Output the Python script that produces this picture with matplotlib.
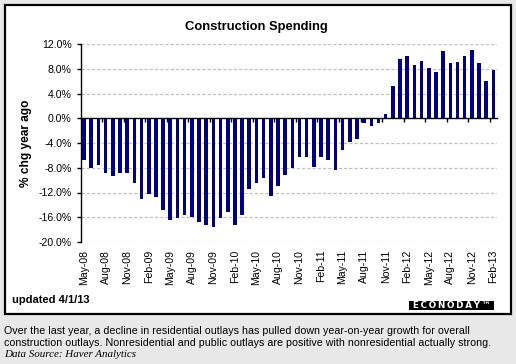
import numpy as np
import matplotlib
matplotlib.use("Agg")
import matplotlib.pyplot as plt
from matplotlib.patches import Rectangle

# Construction spending, % chg year ago, May-08 .. Feb-13 (monthly)
yoy = [-6.7, -8.0, -7.6, -8.9, -9.4, -8.9, -8.8, -10.5, -13.0, -12.2,
       -12.8, -14.9, -16.5, -16.2, -15.7, -15.9, -16.8, -17.3, -17.5, -16.2,
       -15.2, -17.2, -15.7, -11.5, -10.5, -9.6, -12.5, -11.0, -9.2, -8.0,
       -6.2, -6.3, -7.8, -6.3, -6.7, -8.4, -5.1, -3.8, -3.3, -0.7,
       -1.2, -0.7, 0.7, 5.2, 9.6, 10.1, 8.6, 9.2, 8.1, 7.5,
       10.9, 8.9, 9.1, 10.1, 11.0, 8.9, 6.0, 7.8]
tick_labels = ["May-08", "Aug-08", "Nov-08", "Feb-09", "May-09", "Aug-09",
               "Nov-09", "Feb-10", "May-10", "Aug-10", "Nov-10", "Feb-11",
               "May-11", "Aug-11", "Nov-11", "Feb-12", "May-12", "Aug-12",
               "Nov-12", "Feb-13"]
y_ticks = [12, 8, 4, 0, -4, -8, -12, -16, -20]

plt.rcParams['font.family'] = ['Liberation Sans', 'DejaVu Sans']

W, H = 516, 364
fig = plt.figure(figsize=(W / 100, H / 100), dpi=100, facecolor='#e8e8e8')

# white chart panel with black frame
fig.patches.append(Rectangle((4.5 / W, 1 - 314 / H), 506 / W, 309 / H,
                             transform=fig.transFigure, facecolor='white',
                             edgecolor='black', linewidth=1.6, zorder=-5))

ax = fig.add_axes([80.5 / W, 1 - 242 / H, 416.5 / W, 198 / H])
ax.set_facecolor('none')

x = np.arange(len(yoy))
ax.bar(x, yoy, width=0.5, color='#000080', zorder=3)

ax.set_xlim(-0.5, len(yoy) - 0.5)
ax.set_ylim(-20, 12)
ax.set_yticks(y_ticks)
ax.set_yticklabels([f"{v:.1f}%" for v in y_ticks], fontsize=7.6)
ax.tick_params(axis='y', length=3, width=1, direction='out', pad=3.5)
for v in y_ticks:
    if v != 0:
        ax.axhline(v, color='#c0c0c0', lw=0.9, dashes=(2.6, 1.6), zorder=1)

for s in ['top', 'right']:
    ax.spines[s].set_visible(False)
ax.spines['left'].set_linewidth(1.0)
ax.spines['bottom'].set_position(('data', 0))
ax.spines['bottom'].set_linewidth(1.0)
ax.spines['bottom'].set_zorder(4)
ax.set_xticks(np.arange(2.5, len(yoy) - 1, 3))
ax.tick_params(axis='x', length=3, width=1, direction='out', labelbottom=False)

sec = ax.secondary_xaxis('bottom')
sec.set_xticks(np.arange(0, len(yoy), 3))
sec.set_xticklabels(tick_labels, rotation=90, fontsize=7.6)
sec.tick_params(length=0, pad=5.5)
sec.spines['bottom'].set_visible(False)

ax.set_ylabel("% chg year ago", fontsize=8.6, fontweight='bold')
ax.yaxis.set_label_coords(-0.116, 0.5)

fig.text(256.5 / W, 1 - 27 / H, "Construction Spending", fontsize=9.4,
         fontweight='bold', ha='center', va='center')
fig.text(12 / W, 1 - 300 / H, "updated 4/1/13", fontsize=8,
         fontweight='bold', ha='left', va='center')

# Econoday logo
fig.patches.append(Rectangle((409 / W, 1 - 309.5 / H), 85 / W, 8.5 / H,
                             transform=fig.transFigure, facecolor='black',
                             edgecolor='none', zorder=5))
fig.text(451.5 / W, 1 - 305.3 / H, "E\u2009C\u2009O\u2009N\u2009O\u2009D\u2009A\u2009Y\u2009\u2122",
         fontsize=6.3, fontweight='bold', color='white', ha='center',
         va='center', family='DejaVu Sans', zorder=6)

fig.text(4 / W, 1 - 331 / H,
         "Over the last year, a decline in residential outlays has pulled down year-on-year growth for overall",
         fontsize=7.7, ha='left', va='center')
fig.text(4 / W, 1 - 342.5 / H,
         "construction outlays. Nonresidential and public outlays are positive with nonresidential actually strong.",
         fontsize=7.7, ha='left', va='center')
fig.text(4 / W, 1 - 354.5 / H, "Data Source: Haver Analytics", fontsize=7.9,
         style='italic', family='Liberation Serif', ha='left', va='center')

fig.savefig("out.png", dpi=100, facecolor=fig.get_facecolor())
